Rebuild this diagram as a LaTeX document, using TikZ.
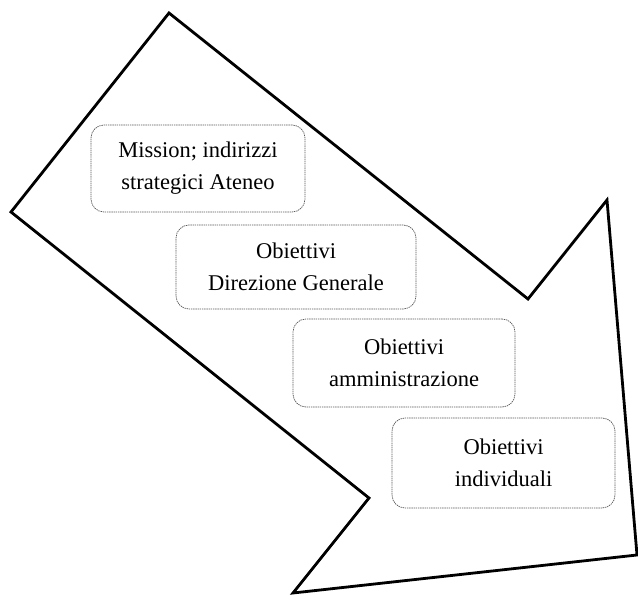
\documentclass[tikz,border=0pt]{standalone}
\usepackage{fontspec}
\setmainfont{Liberation Serif}
\begin{document}
\begin{tikzpicture}[x=1pt,y=-1pt,
  stepbox/.style={draw=gray!70!black, dash pattern=on 1.4pt off 0.8pt, line width=0.7pt, rounded corners=13pt, align=center, font=\fontsize{22.5}{32}\selectfont, inner sep=0pt},
  arrowline/.style={draw=black, line width=2.8pt, line join=miter}]
\useasboundingbox (0,0) rectangle (638,596);
\coordinate (p1) at (169,13);
\coordinate (p2) at (11,212);
\coordinate (p3) at (369,498);
\coordinate (p4) at (293,593);
\coordinate (p5) at (637,555);
\coordinate (p6) at (607,200);
\coordinate (p7) at (528,299);
\draw[arrowline] (p1) -- (p2) -- (p3) -- (p4) -- (p5) -- (p6) -- (p7) -- cycle;
\node[stepbox, minimum width=214pt, minimum height=87pt] (b1) at (198,168.5) {Mission; indirizzi\\strategici Ateneo};
\node[stepbox, minimum width=240pt, minimum height=84pt] (b2) at (296,267) {Obiettivi\\Direzione Generale};
\node[stepbox, minimum width=222pt, minimum height=88pt] (b3) at (404,363) {Obiettivi\\amministrazione};
\node[stepbox, minimum width=223pt, minimum height=90pt] (b4) at (503.5,463) {Obiettivi\\individuali};
\end{tikzpicture}
\end{document}
